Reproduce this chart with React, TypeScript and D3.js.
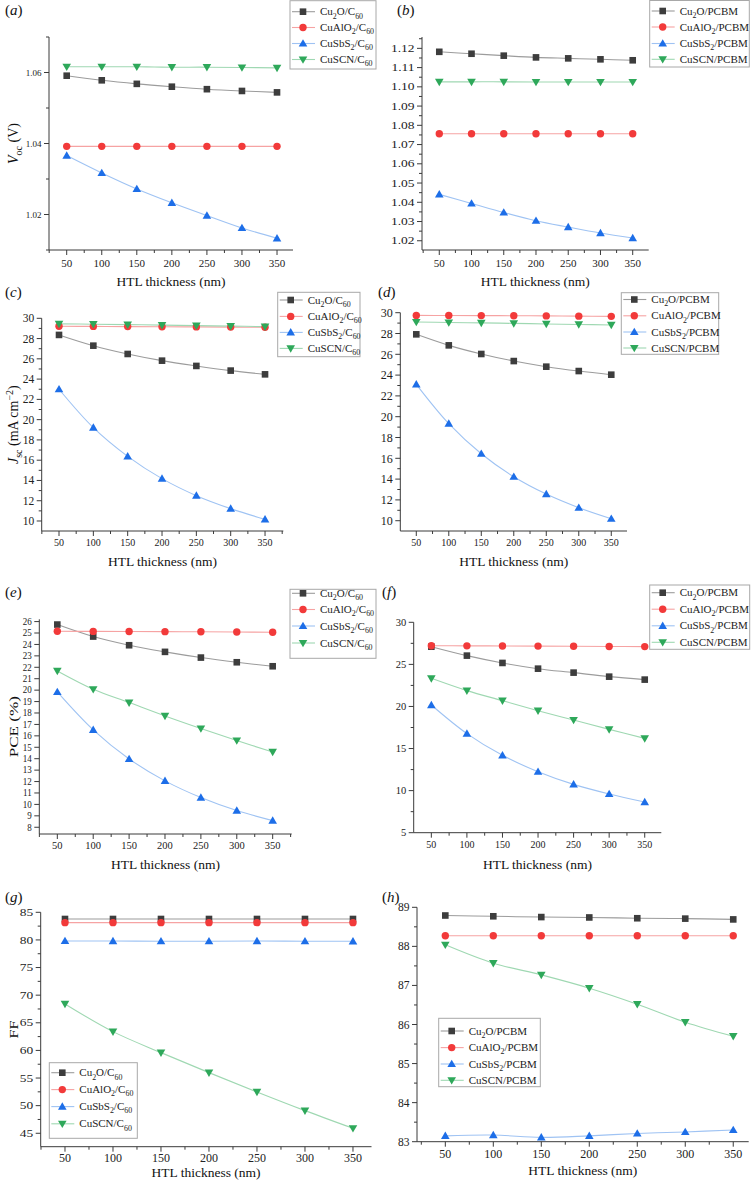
import React from 'react';
import * as d3 from 'd3';

const W = 754;
const H = 1181;
const FONT = '"Liberation Serif", "Times New Roman", serif';

// ---------- shared categories ----------
const THICKNESS = [50, 100, 150, 200, 250, 300, 350];
const X_MAJOR = [50, 100, 150, 200, 250, 300, 350];
const X_MINOR = [25, 75, 125, 175, 225, 275, 325, 375];
const LABELS_C60 = ['Cu2O/C60', 'CuAlO2/C60', 'CuSbS2/C60', 'CuSCN/C60'];
const LABELS_PCBM = ['Cu2O/PCBM', 'CuAlO2/PCBM', 'CuSbS2/PCBM', 'CuSCN/PCBM'];

// ---------- (a) Voc, C60 ----------
const vocC60Cu2O = [1.0591, 1.0578, 1.0568, 1.056, 1.0553, 1.0548, 1.0544];
const vocC60CuAlO2 = [1.0392, 1.0392, 1.0392, 1.0392, 1.0392, 1.0392, 1.0392];
const vocC60CuSbS2 = [1.0366, 1.0317, 1.0272, 1.0233, 1.0197, 1.0162, 1.0133];
const vocC60CuSCN = [1.0616, 1.0616, 1.0616, 1.0615, 1.0615, 1.0614, 1.0613];
// ---------- (b) Voc, PCBM ----------
const vocPCBMCu2O = [1.1182, 1.1172, 1.1162, 1.1153, 1.1148, 1.1143, 1.1138];
const vocPCBMCuAlO2 = [1.0756, 1.0756, 1.0756, 1.0756, 1.0756, 1.0756, 1.0756];
const vocPCBMCuSbS2 = [1.0441, 1.0394, 1.0347, 1.0304, 1.0271, 1.024, 1.0214];
const vocPCBMCuSCN = [1.1026, 1.1026, 1.1026, 1.1025, 1.1025, 1.1025, 1.1025];
// ---------- (c) Jsc, C60 ----------
const jscC60Cu2O = [28.36, 27.3, 26.48, 25.82, 25.3, 24.84, 24.47];
const jscC60CuAlO2 = [29.22, 29.2, 29.18, 29.17, 29.15, 29.13, 29.11];
const jscC60CuSbS2 = [23.0, 19.21, 16.38, 14.18, 12.5, 11.22, 10.16];
const jscC60CuSCN = [29.45, 29.42, 29.38, 29.33, 29.28, 29.23, 29.18];
// ---------- (d) Jsc, PCBM ----------
const jscPCBMCu2O = [27.92, 26.86, 26.03, 25.35, 24.81, 24.39, 24.04];
const jscPCBMCuAlO2 = [29.74, 29.73, 29.72, 29.71, 29.69, 29.67, 29.65];
const jscPCBMCuSbS2 = [23.11, 19.33, 16.44, 14.23, 12.56, 11.25, 10.19];
const jscPCBMCuSCN = [29.1, 29.06, 29.02, 28.97, 28.92, 28.87, 28.82];
// ---------- (e) PCE, C60 ----------
const pceC60Cu2O = [25.74, 24.69, 23.93, 23.35, 22.85, 22.44, 22.09];
const pceC60CuAlO2 = [25.15, 25.14, 25.13, 25.12, 25.11, 25.09, 25.07];
const pceC60CuSbS2 = [19.84, 16.52, 13.98, 12.06, 10.6, 9.46, 8.58];
const pceC60CuSCN = [21.68, 20.08, 18.91, 17.74, 16.64, 15.59, 14.59];
// ---------- (f) PCE, PCBM ----------
const pcePCBMCu2O = [27.1, 26.04, 25.17, 24.49, 24.02, 23.54, 23.19];
const pcePCBMCuAlO2 = [27.22, 27.2, 27.19, 27.17, 27.15, 27.13, 27.11];
const pcePCBMCuSbS2 = [20.17, 16.77, 14.19, 12.25, 10.74, 9.6, 8.64];
const pcePCBMCuSCN = [23.34, 21.88, 20.69, 19.5, 18.39, 17.28, 16.21];
// ---------- (g) FF, C60 ----------
const ffC60Cu2O = [83.79, 83.79, 83.79, 83.79, 83.79, 83.79, 83.79];
const ffC60CuAlO2 = [83.13, 83.13, 83.13, 83.13, 83.13, 83.13, 83.13];
const ffC60CuSbS2 = [79.81, 79.8, 79.76, 79.76, 79.8, 79.76, 79.75];
const ffC60CuSCN = [68.41, 63.4, 59.6, 55.98, 52.48, 49.1, 45.9];
// ---------- (h) FF, PCBM ----------
const ffPCBMCu2O = [88.79, 88.77, 88.75, 88.74, 88.72, 88.71, 88.69];
const ffPCBMCuAlO2 = [88.27, 88.27, 88.27, 88.27, 88.27, 88.27, 88.27];
const ffPCBMCuSbS2 = [83.15, 83.17, 83.11, 83.15, 83.21, 83.25, 83.3];
const ffPCBMCuSCN = [88.04, 87.57, 87.27, 86.93, 86.52, 86.06, 85.7];

// ---------- tick values ----------
const VOC_C60_TICKS = [1.02, 1.04, 1.06];
const VOC_C60_MINOR = [1.01, 1.03, 1.05, 1.07];
const VOC_PCBM_TICKS = [1.02, 1.03, 1.04, 1.05, 1.06, 1.07, 1.08, 1.09, 1.1, 1.11, 1.12];
const VOC_PCBM_MINOR = [1.025, 1.035, 1.045, 1.055, 1.065, 1.075, 1.085, 1.095, 1.105, 1.115, 1.125];
const JSC_TICKS = [10, 12, 14, 16, 18, 20, 22, 24, 26, 28, 30];
const JSC_MINOR = [9, 11, 13, 15, 17, 19, 21, 23, 25, 27, 29];
const PCE_C60_TICKS = [8, 9, 10, 11, 12, 13, 14, 15, 16, 17, 18, 19, 20, 21, 22, 23, 24, 25, 26];
const PCE_C60_MINOR: number[] = [];
const PCE_PCBM_TICKS = [5, 10, 15, 20, 25, 30];
const PCE_PCBM_MINOR = [7.5, 12.5, 17.5, 22.5, 27.5];
const FF_C60_TICKS = [45, 50, 55, 60, 65, 70, 75, 80, 85];
const FF_C60_MINOR = [42.5, 47.5, 52.5, 57.5, 62.5, 67.5, 72.5, 77.5, 82.5];
const FF_PCBM_TICKS = [83, 84, 85, 86, 87, 88, 89];
const FF_PCBM_MINOR = [83.5, 84.5, 85.5, 86.5, 87.5, 88.5];

const MARKER_COLORS = ['#3d3d3d', '#f23a3a', '#1d6ee8', '#2ea85a'];
const LINE_COLORS = ['#9c9c9c', '#f6a3a3', '#9fc3f3', '#9fd8b2'];
const AXIS = '#3a3a3a';

type Box = { l: number; t: number; r: number; b: number };
type Legend = { x: number; y: number; w: number; h: number; rows: number[] };
type Panel = {
  letter: string; lx: number; ly: number;
  box: Box; xDomain: [number, number]; yDomain: [number, number];
  yTicks: number[]; yMinor: number[]; yDec: number;
  yFont: number; ySx: number; xFont: number; xLabDy: number; titleDy: number;
  series: number[][]; labels: string[]; legend: Legend;
  yTitle?: string; yTitleX?: number; yTitleSx?: number;
};

const PANELS: Panel[] = [
  {
    letter: 'a', lx: 5, ly: 15, box: { l: 49, t: 37, r: 293, b: 250 }, xDomain: [24.75, 372.8], yDomain: [1.01, 1.07],
    yTicks: VOC_C60_TICKS, yMinor: VOC_C60_MINOR, yDec: 2, yFont: 9, ySx: 1, xFont: 11, xLabDy: 17, titleDy: 36,
    series: [vocC60Cu2O, vocC60CuAlO2, vocC60CuSbS2, vocC60CuSCN], labels: LABELS_C60,
    legend: { x: 290, y: 0.7, w: 86, h: 68.3, rows: [11.7, 27.5, 43.5, 59.5] }, yTitle: 'voc', yTitleX: 18, yTitleSx: 1,
  },
  {
    letter: 'b', lx: 397, ly: 15, box: { l: 422, t: 37, r: 648.7, b: 250 }, xDomain: [23.2, 374.8], yDomain: [1.0152, 1.1259],
    yTicks: VOC_PCBM_TICKS, yMinor: VOC_PCBM_MINOR, yDec: 2, yFont: 10, ySx: 1.35, xFont: 11, xLabDy: 17, titleDy: 36,
    series: [vocPCBMCu2O, vocPCBMCuAlO2, vocPCBMCuSbS2, vocPCBMCuSCN], labels: LABELS_PCBM,
    legend: { x: 649.7, y: 0.5, w: 99.6, h: 66.5, rows: [11, 27, 43.5, 59.3] },
  },
  {
    letter: 'c', lx: 5, ly: 297, box: { l: 41.7, t: 318.3, r: 283.3, b: 531 }, xDomain: [24.8, 376.6], yDomain: [9.013, 30],
    yTicks: JSC_TICKS, yMinor: JSC_MINOR, yDec: 0, yFont: 11.5, ySx: 1, xFont: 10, xLabDy: 15, titleDy: 35,
    series: [jscC60Cu2O, jscC60CuAlO2, jscC60CuSbS2, jscC60CuSCN], labels: LABELS_C60,
    legend: { x: 277.7, y: 292.3, w: 82.3, h: 64.4, rows: [300, 316.4, 332.4, 348.4] }, yTitle: 'jsc', yTitleX: 18, yTitleSx: 1,
  },
  {
    letter: 'd', lx: 378, ly: 297, box: { l: 400.3, t: 312.7, r: 627, b: 531 }, xDomain: [25.4, 374.2], yDomain: [9.01, 30],
    yTicks: JSC_TICKS, yMinor: JSC_MINOR, yDec: 0, yFont: 12, ySx: 1, xFont: 10, xLabDy: 15, titleDy: 35,
    series: [jscPCBMCu2O, jscPCBMCuAlO2, jscPCBMCuSbS2, jscPCBMCuSCN], labels: LABELS_PCBM,
    legend: { x: 621.3, y: 292.7, w: 97.4, h: 61.6, rows: [299.5, 315.8, 332, 348] },
  },
  {
    letter: 'e', lx: 5, ly: 597, box: { l: 39.3, t: 619.3, r: 291.7, b: 834 }, xDomain: [24.9, 376.5], yDomain: [7.41, 26.2],
    yTicks: PCE_C60_TICKS, yMinor: PCE_C60_MINOR, yDec: 0, yFont: 9.5, ySx: 0.95, xFont: 10.5, xLabDy: 15, titleDy: 35,
    series: [pceC60Cu2O, pceC60CuAlO2, pceC60CuSbS2, pceC60CuSCN], labels: LABELS_C60,
    legend: { x: 290, y: 589.3, w: 86, h: 69, rows: [593.3, 609.5, 626, 643] }, yTitle: 'pce', yTitleX: 18, yTitleSx: 1.27,
  },
  {
    letter: 'f', lx: 382, ly: 597, box: { l: 413.7, t: 622.3, r: 661.3, b: 832.7 }, xDomain: [25.2, 373.3], yDomain: [5, 30],
    yTicks: PCE_PCBM_TICKS, yMinor: PCE_PCBM_MINOR, yDec: 0, yFont: 10.5, ySx: 1, xFont: 10, xLabDy: 15, titleDy: 36,
    series: [pcePCBMCu2O, pcePCBMCuAlO2, pcePCBMCuSbS2, pcePCBMCuSCN], labels: LABELS_PCBM,
    legend: { x: 649.7, y: 585, w: 100, h: 64.3, rows: [592.7, 609.2, 625.8, 642.3] },
  },
  {
    letter: 'g', lx: 5, ly: 902, box: { l: 40.7, t: 912.3, r: 371.5, b: 1146.7 }, xDomain: [24.7, 369.3], yDomain: [42.57, 85],
    yTicks: FF_C60_TICKS, yMinor: FF_C60_MINOR, yDec: 0, yFont: 10.5, ySx: 1.28, xFont: 12, xLabDy: 15, titleDy: 30,
    series: [ffC60Cu2O, ffC60CuAlO2, ffC60CuSbS2, ffC60CuSCN], labels: LABELS_C60,
    legend: { x: 49.3, y: 1062.7, w: 88, h: 75.6, rows: [1072.7, 1089.6, 1106.6, 1123.8] }, yTitle: 'ff', yTitleX: 18, yTitleSx: 1.2,
  },
  {
    letter: 'h', lx: 382, ly: 902, box: { l: 417, t: 907.3, r: 748.7, b: 1141.7 }, xDomain: [20.5, 366.1], yDomain: [83, 89],
    yTicks: FF_PCBM_TICKS, yMinor: FF_PCBM_MINOR, yDec: 0, yFont: 11.5, ySx: 1, xFont: 12, xLabDy: 16, titleDy: 33,
    series: [ffPCBMCu2O, ffPCBMCuAlO2, ffPCBMCuSbS2, ffPCBMCuSCN], labels: LABELS_PCBM,
    legend: { x: 438.7, y: 1018.3, w: 101.6, h: 68.4, rows: [1031, 1047.6, 1064, 1080.3] },
  },
];

function Marker({ kind, x, y }: { kind: number; x: number; y: number }) {
  const c = MARKER_COLORS[kind];
  if (kind === 0) return <rect x={x - 3.3} y={y - 3.3} width={6.6} height={6.6} fill={c} />;
  if (kind === 1) return <circle cx={x} cy={y} r={3.7} fill={c} />;
  if (kind === 2) return <path d={`M${x},${y - 4.3}L${x + 4.3},${y + 3.1}L${x - 4.3},${y + 3.1}Z`} fill={c} />;
  return <path d={`M${x},${y + 4.3}L${x + 4.3},${y - 3.1}L${x - 4.3},${y - 3.1}Z`} fill={c} />;
}

function chem(label: string, size: number) {
  const parts = label.split(/(\d+)/).filter((p) => p !== '');
  let shifted = false;
  const sh = size * 0.3;
  return parts.map((p, i) => {
    const sub = /^\d+$/.test(p);
    let dy: number | undefined;
    if (sub && !shifted) { dy = sh; shifted = true; }
    else if (!sub && shifted) { dy = -sh; shifted = false; }
    return (
      <tspan key={i} dy={dy} fontSize={sub ? size * 0.72 : size}>{p}</tspan>
    );
  });
}

function YTitle({ kind, x, y, sx }: { kind: string; x: number; y: number; sx: number }) {
  const tr = `translate(${x},${y}) rotate(-90) scale(${sx},1)`;
  const common = { transform: tr, textAnchor: 'middle' as const, fontFamily: FONT, fill: '#111' };
  if (kind === 'voc') {
    return (
      <text {...common} fontSize={14}>
        <tspan fontStyle="italic">V</tspan>
        <tspan dy={3.5} fontSize={10}>oc</tspan>
        <tspan dy={-3.5}> (V)</tspan>
      </text>
    );
  }
  if (kind === 'jsc') {
    return (
      <text {...common} fontSize={14}>
        <tspan fontStyle="italic">J</tspan>
        <tspan dy={3.5} fontSize={10}>sc</tspan>
        <tspan dy={-3.5}> (mA cm</tspan>
        <tspan dy={-5} fontSize={10}>−2</tspan>
        <tspan dy={5}>)</tspan>
      </text>
    );
  }
  if (kind === 'pce') return <text {...common} fontSize={13.5}>PCE (%)</text>;
  return <text {...common} fontSize={13.5}>FF</text>;
}

function PanelView({ p }: { p: Panel }) {
  const { box } = p;
  const x = d3.scaleLinear().domain(p.xDomain).range([box.l, box.r]);
  const y = d3.scaleLinear().domain(p.yDomain).range([box.b, box.t]);
  const line = d3
    .line<number>()
    .x((_, i) => x(THICKNESS[i]))
    .y((d) => y(d))
    .curve(d3.curveCatmullRom.alpha(0.5));
  const fmt = d3.format(`.${p.yDec}f`);
  const inX = (v: number) => v >= p.xDomain[0] - 0.01 && v <= p.xDomain[1] + 0.01;
  const inY = (v: number) => v >= p.yDomain[0] - 1e-6 && v <= p.yDomain[1] + 1e-6;
  const MAJ = 5;
  const MIN = 3;
  const lg = p.legend;
  return (
    <g>
      {/* panel letter */}
      <text x={p.lx} y={p.ly} fontFamily={FONT} fontSize={15} fill="#111">
        (<tspan fontStyle="italic">{p.letter}</tspan>)
      </text>
      {/* series lines */}
      {p.series.map((s, k) => (
        <path key={`l${k}`} d={line(s) || ''} fill="none" stroke={LINE_COLORS[k]} strokeWidth={1.1} />
      ))}
      {/* markers */}
      {p.series.map((s, k) => (
        <g key={`m${k}`}>
          {s.map((v, i) => (
            <Marker key={i} kind={k} x={x(THICKNESS[i])} y={y(v)} />
          ))}
        </g>
      ))}
      {/* axes */}
      <line x1={box.l} x2={box.r} y1={box.b} y2={box.b} stroke={AXIS} strokeWidth={1} />
      <line x1={box.l} x2={box.l} y1={box.t} y2={box.b} stroke={AXIS} strokeWidth={1} />
      {X_MAJOR.filter(inX).map((v) => (
        <g key={`xt${v}`}>
          <line x1={x(v)} x2={x(v)} y1={box.b} y2={box.b + MAJ} stroke={AXIS} />
          <text x={x(v)} y={box.b + p.xLabDy} textAnchor="middle" fontFamily={FONT} fontSize={p.xFont} fill="#222">
            {v}
          </text>
        </g>
      ))}
      {X_MINOR.filter(inX).map((v) => (
        <line key={`xm${v}`} x1={x(v)} x2={x(v)} y1={box.b} y2={box.b + MIN} stroke={AXIS} />
      ))}
      {p.yTicks.filter(inY).map((v) => (
        <g key={`yt${v}`}>
          <line x1={box.l - MAJ} x2={box.l} y1={y(v)} y2={y(v)} stroke={AXIS} />
          <text
            transform={`translate(${box.l - MAJ - 2.5},${y(v)}) scale(${p.ySx},1)`}
            dy="0.35em"
            textAnchor="end"
            fontFamily={FONT}
            fontSize={p.yFont}
            fill="#222"
          >
            {fmt(v)}
          </text>
        </g>
      ))}
      {p.yMinor.filter(inY).map((v) => (
        <line key={`ym${v}`} x1={box.l - MIN} x2={box.l} y1={y(v)} y2={y(v)} stroke={AXIS} />
      ))}
      {/* x title */}
      <text
        x={(box.l + box.r) / 2}
        y={box.b + p.titleDy}
        textAnchor="middle"
        fontFamily={FONT}
        fontSize={13.5}
        fill="#111"
      >
        HTL thickness (nm)
      </text>
      {p.yTitle && (
        <YTitle kind={p.yTitle} x={p.yTitleX || 18} y={(box.t + box.b) / 2} sx={p.yTitleSx || 1} />
      )}
      {/* legend */}
      <rect x={lg.x} y={lg.y} width={lg.w} height={lg.h} fill="#fff" stroke="#a8a8a8" strokeWidth={1} />
      {p.labels.map((lab, k) => (
        <g key={`lg${k}`}>
          <line x1={lg.x + 2} x2={lg.x + 25} y1={lg.rows[k]} y2={lg.rows[k]} stroke={LINE_COLORS[k]} strokeWidth={1.1} />
          <Marker kind={k} x={lg.x + 13} y={lg.rows[k]} />
          <text x={lg.x + 30} y={lg.rows[k] + 3.5} fontFamily={FONT} fontSize={11} fill="#222">
            {chem(lab, 11)}
          </text>
        </g>
      ))}
    </g>
  );
}

export default function App() {
  return (
    <svg
      width={W}
      height={H}
      viewBox={`0 0 ${W} ${H}`}
      style={{ position: 'absolute', left: 0, top: 0, background: '#fff' }}
    >
      <rect x={0} y={0} width={W} height={H} fill="#fff" />
      {PANELS.map((p) => (
        <PanelView key={p.letter} p={p} />
      ))}
    </svg>
  );
}
